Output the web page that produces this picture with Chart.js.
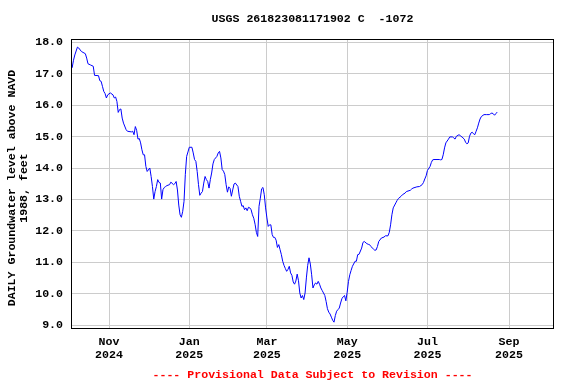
<!DOCTYPE html>
<html>
<head>
<meta charset="utf-8">
<script src="https://cdn.jsdelivr.net/npm/chart.js@4/dist/chart.umd.min.js"></script>
<style>
html,body{margin:0;padding:0;background:#fff;}
canvas{display:block;}
</style>
</head>
<body>
<canvas id="c" width="576" height="384"></canvas>
<script>
// Day offsets since 2024-10-01 (day 0)
const startDate = Date.UTC(2024, 9, 1);
const days = [2,3,4,5,7,8,10,13,14,15,17,19,20,23,24,25,26,27,28,29,30,32,34,35,36,37,38,39,40,41,42,44,45,48,49,50,51,52,53,54,55,56,57,58,59,60,62,63,64,65,66,67,68,69,70,71,72,73,74,75,77,78,80,81,82,83,84,85,86,87,88,89,90,91,92,94,95,96,97,98,99,100,101,102,103,104,105,106,107,108,109,110,111,113,114,115,116,117,118,119,120,121,122,123,124,125,126,127,129,130,131,132,133,134,135,136,137,138,139,140,141,142,143,144,145,146,147,148,149,150,151,152,153,154,155,156,157,158,159,160,161,162,163,164,165,166,167,168,169,170,171,172,173,174,175,176,177,178,179,180,181,182,183,184,185,186,187,188,189,190,191,192,193,194,195,196,197,198,199,200,201,202,203,204,205,206,207,208,209,210,211,212,213,214,215,216,218,219,220,221,223,224,225,227,228,229,230,232,233,234,235,236,238,240,241,243,244,245,246,247,249,250,251,253,254,256,257,260,261,262,265,267,269,270,271,272,273,275,276,277,278,282,283,284,285,286,287,289,290,292,293,294,295,297,298,300,301,302,303,304,305,306,307,308,309,310,311,312,313,314,316,318,320,321,322,323,324,325,326];
const levels = [17.29,17.2,17.43,17.6,17.85,17.82,17.71,17.64,17.5,17.32,17.28,17.24,16.95,16.94,16.78,16.76,16.6,16.44,16.37,16.23,16.33,16.39,16.33,16.23,16.26,16.12,15.77,15.86,15.88,15.59,15.43,15.22,15.17,15.15,15.17,15.06,15.32,15.2,14.92,14.94,14.8,14.58,14.42,14.42,14.05,13.89,14.0,13.73,13.41,13.01,13.25,13.41,13.63,13.54,13.52,13.01,13.31,13.38,13.41,13.44,13.47,13.55,13.47,13.5,13.57,13.3,12.82,12.51,12.43,12.62,12.94,13.8,14.37,14.51,14.66,14.66,14.48,14.27,14.21,13.89,13.47,13.13,13.2,13.25,13.52,13.73,13.63,13.57,13.36,13.63,13.84,14.13,14.27,14.37,14.48,14.53,14.32,13.95,13.9,13.79,13.47,13.23,13.4,13.35,13.1,13.3,13.49,13.52,13.41,13.1,12.94,12.78,12.8,12.67,12.73,12.64,12.75,12.73,12.67,12.51,12.4,12.21,11.95,11.82,12.78,13.04,13.34,13.38,13.15,12.73,12.41,12.14,12.19,12.19,11.88,11.79,11.79,11.7,11.47,11.56,11.4,11.24,11.03,10.9,10.8,10.71,10.77,10.87,10.66,10.58,10.37,10.3,10.4,10.62,10.41,10.02,9.86,9.94,9.81,10.02,10.5,10.9,11.14,10.94,10.6,10.18,10.28,10.34,10.3,10.39,10.3,10.18,10.1,10.02,9.94,9.75,9.52,9.41,9.35,9.25,9.15,9.09,9.3,9.44,9.49,9.54,9.7,9.84,9.9,9.94,9.77,10.04,10.39,10.6,10.74,10.87,11.03,11.03,11.24,11.25,11.45,11.63,11.66,11.59,11.57,11.56,11.5,11.42,11.38,11.39,11.5,11.66,11.77,11.8,11.84,11.84,11.95,12.19,12.51,12.73,12.89,12.97,13.03,13.1,13.15,13.2,13.25,13.29,13.33,13.36,13.4,13.41,13.47,13.54,13.65,13.75,13.92,14.05,14.18,14.26,14.27,14.27,14.26,14.27,14.42,14.64,14.8,14.92,14.99,14.99,14.96,14.92,15.01,15.06,15.03,14.96,14.92,14.82,14.77,14.8,15.01,15.11,15.14,15.09,15.06,15.17,15.28,15.43,15.56,15.64,15.7,15.7,15.7,15.73,15.75,15.73,15.68,15.73,15.78];

const xTickDates = ['2024-11-01','2025-01-01','2025-03-01','2025-05-01','2025-07-01','2025-09-01'];
const xTickMonths = ['Nov','Jan','Mar','May','Jul','Sep'];
const xTickYears = ['2024','2025','2025','2025','2025','2025'];
const yTicks = [9.0,10.0,11.0,12.0,13.0,14.0,15.0,16.0,17.0,18.0];

const titleText = 'USGS 261823081171902 C  -1072';
const yTitle1 = 'DAILY Groundwater level above NAVD';
const yTitle2 = '1988, feet';
const footText = '---- Provisional Data Subject to Revision ----';

const xMin = 2.1, xMax = 369.2, yMin = 8.873, yMax = 18.108;

const dayOf = s => { const p = s.split('-').map(Number); return (Date.UTC(p[0], p[1]-1, p[2]) - startDate) / 86400000; };
const xTickDays = xTickDates.map(dayOf);

const FAMILY = '"Liberation Mono", "DejaVu Sans Mono", monospace';
const FSIZE = 11.6;
const FONT = 'bold ' + FSIZE + 'px ' + FAMILY;

const textPlugin = {
  id: 'texts',
  afterDraw(chart) {
    const ctx = chart.ctx, a = chart.chartArea;
    ctx.save();
    ctx.strokeStyle = '#000';
    ctx.lineWidth = 1;
    ctx.strokeRect(Math.round(a.left) + 0.5, Math.round(a.top) + 0.5, Math.round(a.right - a.left) - 1, Math.round(a.bottom - a.top) - 1);
    ctx.font = FONT;
    ctx.fillStyle = '#000';
    ctx.textAlign = 'center';
    ctx.textBaseline = 'middle';
    ctx.fillText(titleText, (a.left + a.right) / 2, 19);
    ctx.fillStyle = '#ff0000';
    ctx.fillText(footText, (a.left + a.right) / 2, 375);
    ctx.fillStyle = '#000';
    ctx.translate(12, 188);
    ctx.rotate(-Math.PI / 2);
    ctx.fillText(yTitle1, 0, 0);
    ctx.fillText(yTitle2, 0, 12);
    ctx.restore();
  }
};

new Chart(document.getElementById('c'), {
  type: 'line',
  data: {
    datasets: [{
      data: days.map((d, i) => ({x: d, y: levels[i]})),
      borderColor: '#0000ff',
      borderWidth: 1,
      pointRadius: 0,
      tension: 0,
      fill: false
    }]
  },
  options: {
    responsive: false,
    animation: false,
    devicePixelRatio: 1,
    layout: { padding: { top: 39, right: 22, bottom: 0, left: 0 } },
    plugins: { legend: { display: false }, tooltip: { enabled: false }, title: { display: false } },
    scales: {
      x: {
        type: 'linear',
        min: xMin, max: xMax,
        afterBuildTicks: s => { s.ticks = xTickDays.map(v => ({value: v})); },
        afterFit: s => { s.height = 55; },
        grid: { color: '#cccccc', lineWidth: 1, drawTicks: false },
        border: { display: false },
        ticks: {
          autoSkip: false, maxRotation: 0, padding: 7,
          color: '#000',
          font: { family: FAMILY, size: FSIZE, weight: 'bold', lineHeight: 1.12 },
          callback: (v) => { const i = xTickDays.indexOf(v); return i >= 0 ? [xTickMonths[i], xTickYears[i]] : ''; }
        }
      },
      y: {
        min: yMin, max: yMax,
        afterBuildTicks: s => { s.ticks = yTicks.map(v => ({value: v})); },
        afterFit: s => { s.width = 71; },
        grid: { color: '#cccccc', lineWidth: 1, drawTicks: false },
        border: { display: false },
        ticks: {
          padding: 8, color: '#000',
          font: { family: FAMILY, size: FSIZE, weight: 'bold' },
          callback: v => Number(v).toFixed(1)
        }
      }
    }
  },
  plugins: [textPlugin]
});
</script>
</body>
</html>
